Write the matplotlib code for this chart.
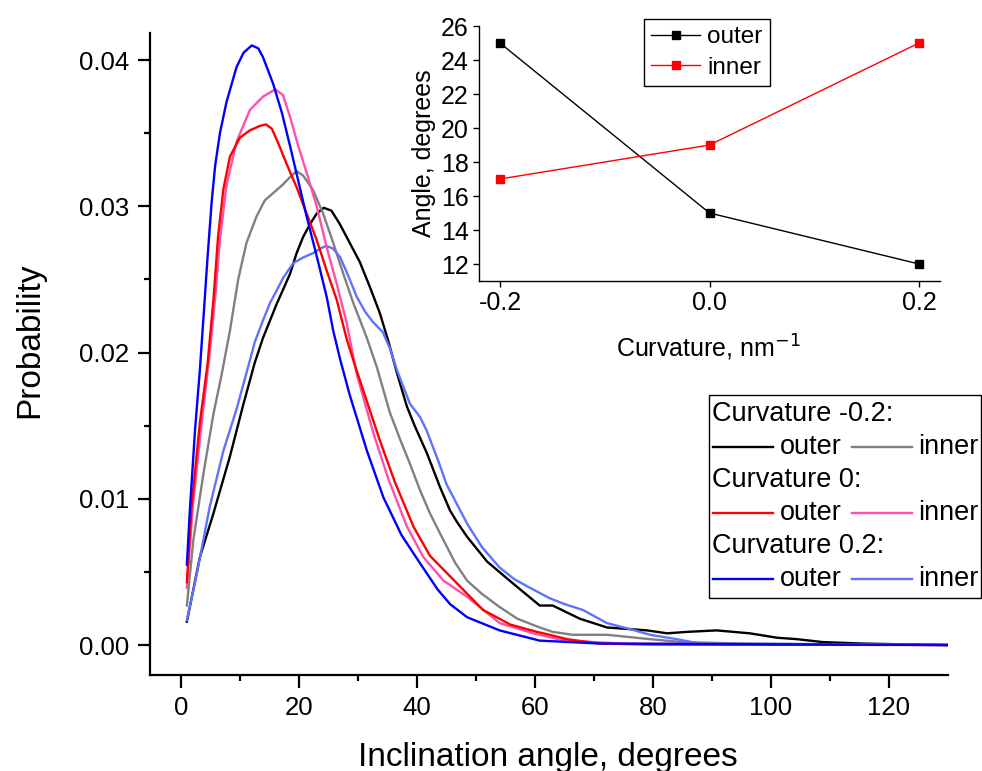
import numpy as np
import matplotlib
matplotlib.use('Agg')
import matplotlib.pyplot as plt
from matplotlib.lines import Line2D
from matplotlib.patches import Rectangle

plt.rcParams['font.family'] = ['Liberation Sans', 'DejaVu Sans']

# main panel: inclination angle distributions
x_neg_out = [1, 3.2, 5.5, 8.3, 10.6, 12.5, 13.9, 15.1, 16.2, 17.3, 18.5, 19.6, 20.7, 21.9,
             23.0, 24.2, 25.5, 26.9, 28.6, 30.3, 32.0, 33.7, 35.2, 36.6, 38.3, 39.6, 41.7,
             43.9, 45.6, 46.8, 48.5, 51.9, 56.3, 60.8, 63, 67.6, 72.2, 79, 82.4, 85.8, 90.8,
             96.4, 101, 104.4, 108.8, 115.6, 122, 130]
y_neg_out = [0.0016, 0.006, 0.009, 0.0129, 0.0165, 0.0193, 0.021, 0.0222, 0.0233, 0.0243,
             0.0254, 0.0268, 0.0279, 0.0288, 0.0295, 0.0299, 0.0297, 0.0288, 0.0275, 0.0262,
             0.0245, 0.0227, 0.0207, 0.0186, 0.0163, 0.015, 0.0131, 0.0108, 0.0092, 0.0084,
             0.0074, 0.0057, 0.0042, 0.0027, 0.0027, 0.0018, 0.0012, 0.001, 0.0008, 0.0009,
             0.001, 0.0008, 0.0005, 0.0004, 0.0002, 0.0001, 0.00005, 0.0]

x_neg_in = [1, 2.1, 3.8, 5.5, 6.9, 8.3, 9.7, 11.1, 12.8, 14.2, 15.9, 17.3, 18.5, 19.6, 20.7,
            22.4, 24.1, 25.8, 27.5, 29.2, 31.5, 33.2, 35.4, 37.2, 38.8, 40.5, 42.2, 44.2,
            46.5, 48.5, 51, 54, 57, 60.8, 63, 66.4, 72.2, 79.5, 85, 95, 130]
y_neg_in = [0.0027, 0.0072, 0.0117, 0.0158, 0.0185, 0.0215, 0.025, 0.0275, 0.0293, 0.0304,
            0.031, 0.0315, 0.032, 0.0324, 0.0321, 0.0311, 0.0295, 0.0275, 0.0254, 0.0234,
            0.021, 0.019, 0.0159, 0.014, 0.0124, 0.0106, 0.009, 0.0074, 0.0056, 0.0044,
            0.0035, 0.0026, 0.0018, 0.0012, 0.0009, 0.0007, 0.0007, 0.0004, 0.0002, 0.0001, 0.0]

x_zero_out = [1, 1.8, 3.2, 4.5, 5.5, 6.3, 7.2, 8.3, 10, 11.7, 13.4, 14.4, 15.4, 16.5, 17.9,
              19.6, 21.3, 23.0, 24.7, 26.4, 28.1, 29.5, 30.9, 33.7, 36.2, 39.4, 42.2, 45.6,
              47.3, 51.2, 55.8, 60.3, 62.5, 65.4, 71, 80, 130]
y_zero_out = [0.0043, 0.0095, 0.0152, 0.0192, 0.0236, 0.028, 0.0312, 0.0334, 0.0347, 0.0352,
              0.0355, 0.0356, 0.0353, 0.0343, 0.0329, 0.0313, 0.0295, 0.0277, 0.0256, 0.0236,
              0.0209, 0.0191, 0.0174, 0.014, 0.0112, 0.0081, 0.0061, 0.0047, 0.004, 0.0024,
              0.0014, 0.0009, 0.0007, 0.0004, 0.0001, 0.00003, 0.0]

x_zero_in = [1, 2.0, 3.5, 4.8, 5.8, 6.6, 7.7, 9.4, 11.7, 13.9, 16.0, 17.3, 18.5, 19.9, 21.3,
             23.0, 24.7, 26.4, 28.1, 29.8, 32.6, 35.2, 38.3, 41.1, 44.5, 48.5, 54, 59.7, 65,
             75, 130]
y_zero_in = [0.0039, 0.0095, 0.0152, 0.0197, 0.0238, 0.0277, 0.0314, 0.0344, 0.0366, 0.0375,
             0.038, 0.0376, 0.0361, 0.0341, 0.0323, 0.03, 0.0272, 0.0247, 0.022, 0.0185,
             0.0145, 0.0113, 0.0081, 0.006, 0.0044, 0.0033, 0.0015, 0.0008, 0.0003, 0.0001, 0.0]

x_pos_out = [1, 1.5, 2.4, 3.2, 3.9, 4.5, 5.2, 5.8, 6.6, 7.7, 9.4, 10.6, 12.0, 13.1, 13.9,
             15.6, 17.1, 18.5, 19.9, 21.3, 23.0, 24.7, 25.8, 27.0, 28.6, 31.5, 34.3, 37.4,
             40.5, 43.5, 45.6, 48.5, 54, 60.8, 71, 130]
y_pos_out = [0.0055, 0.0092, 0.0148, 0.0188, 0.0229, 0.0265, 0.0303, 0.0328, 0.035, 0.0371,
             0.0395, 0.0405, 0.041, 0.0408, 0.0402, 0.0384, 0.0364, 0.0341, 0.0317, 0.0293,
             0.0266, 0.0238, 0.0215, 0.0195, 0.0171, 0.0133, 0.0101, 0.0075, 0.0056, 0.0038,
             0.0028, 0.0019, 0.001, 0.0003, 0.0001, 0.0]

x_pos_in = [1, 2.7, 4.9, 7.2, 9.4, 11.1, 12.5, 13.9, 15.1, 16.3, 17.3, 19.0, 20.7, 22.4, 23.6,
            24.6, 25.8, 27.0, 28.4, 29.8, 31.2, 32.5, 34.2, 35.4, 36.6, 38.8, 40.5, 41.6, 43.6,
            45, 48.5, 51, 54, 56.5, 59.2, 62.5, 65, 68.1, 72.2, 76, 79.5, 84, 88, 130]
y_pos_in = [0.0017, 0.0049, 0.0095, 0.0133, 0.0161, 0.0186, 0.0207, 0.0222, 0.0234, 0.0243,
            0.0251, 0.0261, 0.0265, 0.0268, 0.0271, 0.0273, 0.0271, 0.0265, 0.0252, 0.0238,
            0.0228, 0.0221, 0.0214, 0.0203, 0.0188, 0.0165, 0.0156, 0.0147, 0.0126, 0.011,
            0.0083, 0.0067, 0.0053, 0.0045, 0.0039, 0.0032, 0.0028, 0.0024, 0.0015, 0.0011,
            0.0007, 0.0004, 0.0001, 0.0]

# inset: peak angle vs curvature
curv = [-0.2, 0.0, 0.2]
angle_outer = [25, 15, 12]
angle_inner = [17, 19, 25]

c_neg_out, c_neg_in = 'black', '#808080'
c_zero_out, c_zero_in = '#ff0000', '#ff4fa8'
c_pos_out, c_pos_in = '#0000ff', '#5c73ff'

fig = plt.figure(figsize=(9.82, 7.71), dpi=100)
ax = fig.add_axes([150/982, 1-675/771, 798/982, 642/771])

lw = 1.7
ax.plot(x_neg_out, y_neg_out, color=c_neg_out, lw=lw)
ax.plot(x_neg_in, y_neg_in, color=c_neg_in, lw=lw)
ax.plot(x_pos_in, y_pos_in, color=c_pos_in, lw=lw)
ax.plot(x_zero_in, y_zero_in, color=c_zero_in, lw=lw)
ax.plot(x_zero_out, y_zero_out, color=c_zero_out, lw=lw)
ax.plot(x_pos_out, y_pos_out, color=c_pos_out, lw=lw)

ax.set_xlim(-5.25, 130)
ax.set_ylim(-0.00205, 0.04185)
ax.set_xticks([0, 20, 40, 60, 80, 100, 120])
ax.set_xticks(np.arange(10, 130, 20), minor=True)
ax.set_yticks([0.0, 0.01, 0.02, 0.03, 0.04])
ax.set_yticks([0.005, 0.015, 0.025, 0.035], minor=True)
ax.yaxis.set_major_formatter(matplotlib.ticker.FormatStrFormatter('%.2f'))
for s in ['top', 'right']:
    ax.spines[s].set_visible(False)
for s in ['left', 'bottom']:
    ax.spines[s].set_linewidth(1.6)
ax.tick_params(which='major', direction='out', length=9, width=1.6, labelsize=18.5, pad=6)
ax.tick_params(which='minor', direction='out', length=4.5, width=1.6)
ax.set_xlabel('Inclination angle, degrees', fontsize=24)
ax.xaxis.set_label_coords(0.499, -0.104)
ax.xaxis.label.set_va('top')
ax.set_ylabel('Probability', fontsize=24)
ax.yaxis.set_label_coords(-0.131, 0.522)

# hand-made legend box on the right
def fp(px, py):
    return px/982, 1-py/771
box_l, box_t, box_b = 709, 395, 598
fig.patches.append(Rectangle(fp(box_l, box_b), (981-box_l)/982, (box_b-box_t)/771,
                             transform=fig.transFigure, fill=True, facecolor='white',
                             edgecolor='black', lw=1.0, zorder=5))
groups = [('Curvature -0.2:', c_neg_out, c_neg_in),
          ('Curvature 0:', c_zero_out, c_zero_in),
          ('Curvature 0.2:', c_pos_out, c_pos_in)]
row_y = 414
for title, co, ci in groups:
    fig.text(*fp(712, row_y), title, fontsize=19.5, va='center', ha='left', zorder=6)
    ly = row_y + 33
    fig.lines.append(Line2D([713/982, 773/982], [1-ly/771]*2, color=co, lw=lw,
                            transform=fig.transFigure, zorder=6))
    fig.text(*fp(780, ly), 'outer', fontsize=19.5, va='center', ha='left', zorder=6)
    fig.lines.append(Line2D([852/982, 912/982], [1-ly/771]*2, color=ci, lw=lw,
                            transform=fig.transFigure, zorder=6))
    fig.text(*fp(918, ly), 'inner', fontsize=19.5, va='center', ha='left', zorder=6)
    row_y += 66

# inset
axi = fig.add_axes([479/982, 1-281/771, 461/982, 255/771])
axi.plot(curv, angle_outer, color='black', lw=1.0, marker='s', ms=6, label='outer')
axi.plot(curv, angle_inner, color='#ff0000', lw=1.0, marker='s', ms=6, label='inner')
axi.set_xlim(-0.22, 0.22)
axi.set_ylim(11, 26)
axi.set_xticks([-0.2, 0.0, 0.2])
axi.set_xticklabels(['-0.2', '0.0', '0.2'])
axi.set_yticks([12, 14, 16, 18, 20, 22, 24, 26])
for s in ['top', 'right']:
    axi.spines[s].set_visible(False)
for s in ['left', 'bottom']:
    axi.spines[s].set_linewidth(1.0)
axi.tick_params(direction='out', length=4.5, width=1.0, labelsize=18, pad=3)
axi.set_xlabel('Curvature, nm$^{-1}$', fontsize=18)
axi.xaxis.set_label_coords(0.497, -0.205)
axi.xaxis.label.set_va('top')
axi.set_ylabel('Angle, degrees', fontsize=18)
axi.yaxis.set_label_coords(-0.093, 0.5)
leg = axi.legend(loc='upper left', bbox_to_anchor=(644/982, 1-19/771),
                 bbox_transform=fig.transFigure, fontsize=17.5, frameon=True,
                 fancybox=False, edgecolor='black', framealpha=1, handlelength=2.0,
                 handletextpad=0.3, borderpad=0.3, labelspacing=0.35, borderaxespad=0)
leg.get_frame().set_linewidth(1.0)

fig.savefig('out.png', dpi=100)
